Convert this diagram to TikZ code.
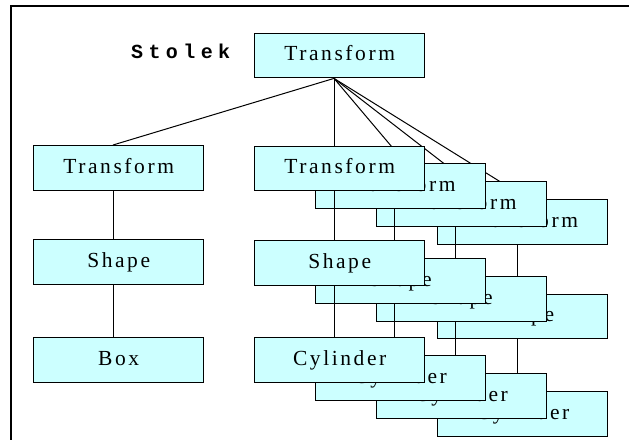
\documentclass[tikz,border=0pt]{standalone}
\usepackage{fontspec}
\usetikzlibrary{calc}
\newfontfamily\boxfont[LetterSpace=12]{Liberation Serif}
\newfontfamily\titlefont[LetterSpace=27]{Liberation Mono}
\definecolor{boxcyan}{HTML}{CCFFFF}
\tikzset{
  nodebox/.style={draw=black, line width=1.4pt, fill=boxcyan,
    minimum width=170pt, minimum height=44.5pt, inner sep=0pt,
    anchor=north west, text height=11pt, text depth=0pt,
    font=\boxfont\fontsize{21.5}{24}\selectfont},
  link/.style={draw=black, line width=1pt},
  frame/.style={draw=black, line width=1.8pt}
}
\begin{document}
\begin{tikzpicture}[x=1pt, y=-1pt]
  \useasboundingbox (0,0) rectangle (629,439);
  \clip (0,0) rectangle (629,439);
  % outer frame, running off the page on the right and at the bottom
  \draw[frame] (11,6) rectangle (700,500);

  % title and root
  \node[anchor=base west, inner sep=0pt,
        font=\titlefont\bfseries\fontsize{20}{22}\selectfont] (title) at (131,58.3) {Stolek};
  \node[nodebox] (top) at (254,32.5) {Transform};
  \coordinate (hub) at ($(top.south west)+(80,0)$);

  % table top: Transform / Shape / Box
  \node[nodebox] (lt) at (33,145) {Transform};
  \node[nodebox] (ls) at (33,239) {Shape};
  \node[nodebox] (lb) at (33,337) {Box};
  \draw[link] (hub) -- ($(lt.north west)+(80,0)$);
  \draw[link] ($(lt.south west)+(80,0)$) -- ($(ls.north west)+(80,0)$);
  \draw[link] ($(ls.south west)+(80,0)$) -- ($(lb.north west)+(80,0)$);

  % four legs, stacked from back to front
  \foreach \k/\x/\yt/\ys/\yc/\d in {d/437/199/293.5/391/91, c/375.5/181/276/373/91, b/314.5/163/258/355/91, a/254/145.5/240/337/80} {
    \node[nodebox] (t\k) at (\x,\yt) {Transform};
    \node[nodebox] (s\k) at (\x,\ys) {Shape};
    \node[nodebox] (c\k) at (\x,\yc) {Cylinder};
    \draw[link] (hub) -- ($(t\k.north west)+(\d,0)$);
    \draw[link] ($(t\k.south west)+(80,0)$) -- ($(s\k.north west)+(80,0)$);
    \draw[link] ($(s\k.south west)+(80,0)$) -- ($(c\k.north west)+(80,0)$);
  }
\end{tikzpicture}
\end{document}
